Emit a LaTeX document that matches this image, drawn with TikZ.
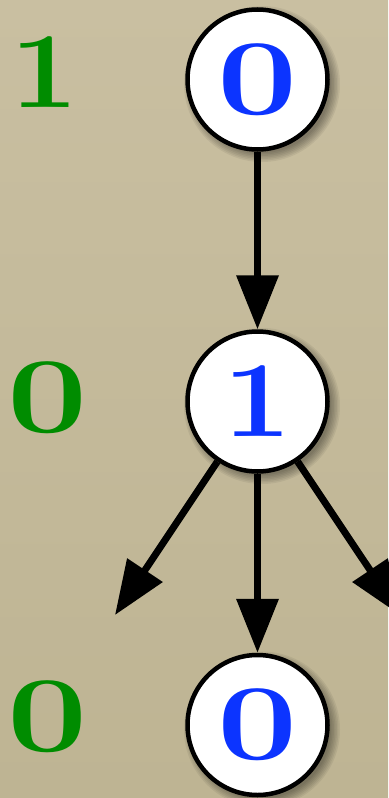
\documentclass[tikz,border=0pt]{standalone}
\usepackage{graphicx}
\usetikzlibrary{arrows.meta}
\definecolor{paper}{RGB}{201,191,161}
\definecolor{paperdark}{RGB}{190,180,147}
\definecolor{levelgreen}{RGB}{0,140,0}
\definecolor{digitblue}{RGB}{12,52,255}
\newcommand{\digitfont}{\fontsize{108bp}{108bp}\selectfont\bfseries}
\newcommand{\wideZero}{\scalebox{1.32}[1]{0}}
\newcommand{\wideOne}{\scalebox{1.12}[1]{1}}
\begin{document}
\begin{tikzpicture}[x=1bp,y=-1bp,
  vertex/.style={circle, draw=black, line width=4.5bp, fill=white,
    minimum size=140bp, inner sep=0pt, text=digitblue, font=\digitfont},
  level/.style={text=levelgreen, font=\digitfont, inner sep=0pt},
  arr/.style={line width=7bp, -{Triangle[length=54bp,width=41bp]}},
]
% paper background
\shade[top color=paper, bottom color=paperdark] (0,0) rectangle (388,798);
\useasboundingbox (0,0) rectangle (388,798);

% soft shadows under the vertices
\foreach \cy in {79.5,401.5,725}{
  \foreach \dr in {0,1.5,...,9}{
    \fill[black, opacity=0.06] (262,\cy+4.5) circle (69+\dr);
  }
}

% vertices
\node[vertex] (top) at (257.5,79.5) {\wideZero};
\node[vertex] (mid) at (257.5,401.5) {\wideOne};
\node[vertex] (bot) at (257.5,725) {\wideZero};

% level labels
\node[level] (lt) at (45,72) {\wideOne};
\node[level] (lm) at (48,398) {\wideZero};
\node[level] (lb) at (48,717) {\wideZero};

% free ends of the side edges
\coordinate (leftend) at (115,615);
\coordinate (rightend) at (400,615);

% edges
\draw[arr] (top) -- (mid);
\draw[arr] (mid) -- (bot);
\draw[arr] (mid) -- (leftend);
\draw[arr] (mid) -- (rightend);
\end{tikzpicture}
\end{document}
